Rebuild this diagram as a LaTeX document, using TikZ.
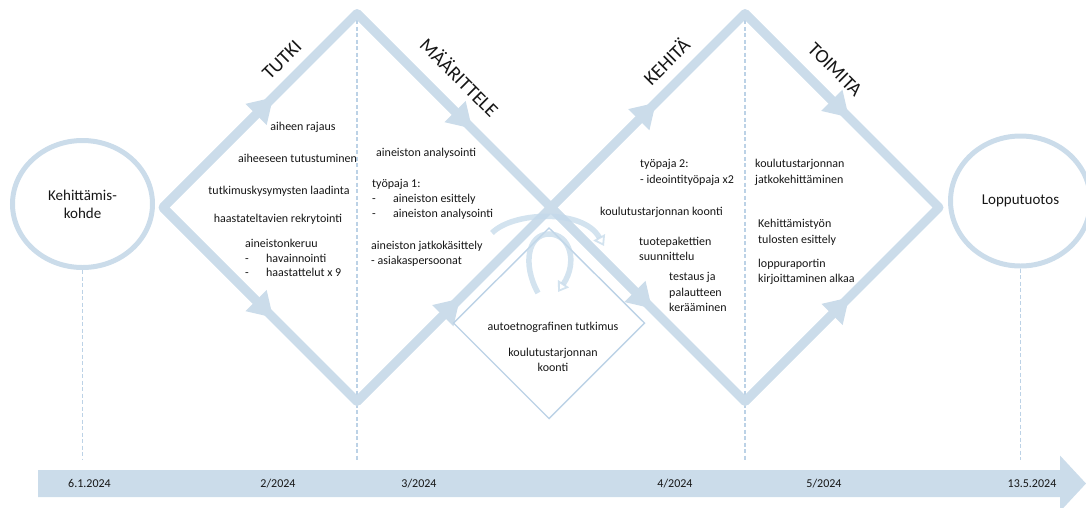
\documentclass[tikz,border=0pt]{standalone}
\usepackage{fontspec}
\setmainfont{Carlito}
\usetikzlibrary{arrows.meta,calc,shapes.geometric}
\definecolor{flow}{RGB}{203,220,234}
\definecolor{guide}{RGB}{188,210,230}
\definecolor{swirl}{RGB}{196,217,234}
\definecolor{ink}{RGB}{22,22,22}
% stacked lines whose first baseline is the node's baseline
\newcommand\stackl[1]{\begin{tabular}[t]{@{}l@{}}#1\end{tabular}}
\newcommand\stackc[1]{\begin{tabular}[t]{@{}c@{}}#1\end{tabular}}
\newcommand\dashitem{\makebox[21pt][l]{-}}

\begin{document}
\begin{tikzpicture}[x=1pt,y=-1pt,
  flowline/.style={draw=flow,line width=9pt,line join=round},
  flowtip/.style={draw=flow,line width=9pt,-{Triangle[length=24pt,width=30pt,line width=0pt]}},
  guideline/.style={draw=guide,line width=1.1pt,dash pattern=on 4pt off 2.5pt},
  swirlarc/.style={draw=swirl,line width=5.5pt,opacity=0.75,-{Triangle[open,length=10pt,width=13pt,line width=1.8pt]}},
  inner/.style={draw=guide,line width=1.4pt,line join=miter},
  endpoint/.style={ellipse,draw=flow,line width=5pt,inner sep=0pt,align=center,
    text=ink,font=\fontsize{15}{18}\selectfont},
  txt/.style={inner sep=0pt,text=ink,font=\fontsize{12}{14.7}\selectfont},
  phase/.style={inner sep=0pt,text=ink,font=\fontsize{19.5}{20}\selectfont},
  date/.style={inner sep=0pt,text=ink,font=\fontsize{12}{14}\selectfont,anchor=base}]
\useasboundingbox (0,0) rectangle (1086,507);

% start and end states
\node[endpoint,minimum width=140pt,minimum height=127pt] (kohde) at (82.5,204) {Kehittämis-\\kohde};
\node[endpoint,minimum width=140pt,minimum height=130pt] (tuotos) at (1020.5,201) {Lopputuotos};

% corner points of the two diamonds
\coordinate (L1) at (163,207.5);
\coordinate (T1) at (357,13.5);
\coordinate (X)  at (551,207.5);
\coordinate (B1) at (357,401.5);
\coordinate (T2) at (745,13.5);
\coordinate (R2) at (939,207.5);
\coordinate (B2) at (745,401.5);

% feet of the guide lines
\coordinate (g1) at (82.5,460);
\coordinate (g2) at (357,460);
\coordinate (g3) at (745,460);
\coordinate (g4) at (1020.5,460);

% guide lines down to the timeline
\draw[guideline] (kohde) -- (g1);
\draw[guideline] (T1) -- (g2);
\draw[guideline] (T2) -- (g3);
\draw[guideline] (tuotos) -- (g4);

% timeline arrow
\fill[flow] (38,470) -- (1060,470) -- (1060,455.5) -- (1086,483.5) -- (1060,511.5) -- (1060,497) -- (38,497) -- cycle;

% the double diamond
\draw[flowline] (L1) -- (T1) -- (X) -- (B1) -- cycle;
\draw[flowline] (X) -- (T2) -- (R2) -- (B2) -- cycle;

% direction arrows on every edge
\draw[flowtip] (L1) -- ($(L1)!0.567!(T1)$);
\draw[flowtip] (T1) -- ($(T1)!0.593!(X)$);
\draw[flowtip] (L1) -- ($(L1)!0.567!(B1)$);
\draw[flowtip] (B1) -- ($(B1)!0.53!(X)$);
\draw[flowtip] (X) -- ($(X)!0.54!(T2)$);
\draw[flowtip] (T2) -- ($(T2)!0.535!(R2)$);
\draw[flowtip] (X) -- ($(X)!0.52!(B2)$);
\draw[flowtip] (B2) -- ($(B2)!0.536!(R2)$);

% small diamond below the crossing
\coordinate (sT) at (549,228);
\coordinate (sL) at (453.5,323);
\coordinate (sB) at (549,418.5);
\coordinate (sR) at (644.5,323);
\draw[inner] (sT) -- (sR) -- (sB) -- (sL) -- cycle;

% iteration arrows at the crossing
\coordinate (la) at (492,233);
\coordinate (lb) at (604,246);
\draw[swirlarc] (la) .. controls (512,212) and (583,208) .. (lb);
\coordinate (lc) at (538,293);
\coordinate (ld) at (549,234);
\coordinate (le) at (558,292);
\draw[swirlarc] (lc) .. controls (522,264) and (528,234) .. (ld) .. controls (570,234) and (578,262) .. (le);

% phase titles
\node[phase,rotate=45]  (tutki) at (282,60) {TUTKI};
\node[phase,rotate=-45] (maar)  at (460,77) {MÄÄRITTELE};
\node[phase,rotate=45]  (kehi)  at (666,61) {KEHITÄ};
\node[phase,rotate=-45] (toim)  at (835,69.5) {TOIMITA};

% TUTKI tasks
\node[txt,anchor=base] (t1) at (303,130.5) {aiheen rajaus};
\node[txt,anchor=base] (t2) at (297.5,162.5) {aiheeseen tutustuminen};
\node[txt,anchor=base] (t3) at (279,194.5) {tutkimuskysymysten laadinta};
\node[txt,anchor=base] (t4) at (278,222.5) {haastateltavien rekrytointi};
\node[txt,anchor=base west] (t5) at (245,247.5)
  {\stackl{aineistonkeruu\\\dashitem havainnointi\\\dashitem haastattelut x 9}};

% MÄÄRITTELE tasks
\node[txt,anchor=base west] (m1) at (376,156.5) {aineiston analysointi};
\node[txt,anchor=base west,font=\fontsize{12}{15}\selectfont] (m2) at (372,187.5)
  {\stackl{työpaja 1:\\\dashitem aineiston esittely\\\dashitem aineiston analysointi}};
\node[txt,anchor=base west] (m3) at (371,249.5)
  {\stackl{aineiston jatkokäsittely\\- asiakaspersoonat}};

% KEHITÄ tasks
\node[txt,anchor=base west,font=\fontsize{12}{16}\selectfont] (k1) at (640,167.7)
  {\stackl{työpaja 2:\\- ideointityöpaja x2}};
\node[txt,anchor=base west] (k2) at (600,215.5) {koulutustarjonnan koonti};
\node[txt,anchor=base west,font=\fontsize{12}{15.2}\selectfont] (k3) at (639,245.6)
  {\stackl{tuotepakettien\\suunnittelu}};
\node[txt,anchor=base west,font=\fontsize{12}{15.3}\selectfont] (k4) at (669,280.9)
  {\stackl{testaus ja\\palautteen\\kerääminen}};

% TOIMITA tasks
\node[txt,anchor=base west,font=\fontsize{12}{16}\selectfont] (o1) at (755,167.7)
  {\stackl{koulutustarjonnan\\jatkokehittäminen}};
\node[txt,anchor=base west,font=\fontsize{12}{16}\selectfont] (o2) at (758,227.5)
  {\stackl{Kehittämistyön\\tulosten esittely}};
\node[txt,anchor=base west,font=\fontsize{12}{15.4}\selectfont] (o3) at (758,267.5)
  {\stackl{loppuraportin\\kirjoittaminen alkaa}};

% parallel work
\node[txt,anchor=base] (a1) at (553,330.5) {autoetnografinen tutkimus};
\node[txt,anchor=base,font=\fontsize{12}{15}\selectfont] (a2) at (553,356.5)
  {\stackc{koulutustarjonnan\\koonti}};

% dates on the timeline
\node[date] (d1) at (89.5,487.8) {6.1.2024};
\node[date] (d2) at (278,487.8) {2/2024};
\node[date] (d3) at (419,487.8) {3/2024};
\node[date] (d4) at (675,487.8) {4/2024};
\node[date] (d5) at (824,487.8) {5/2024};
\node[date] (d6) at (1032,487.8) {13.5.2024};
\end{tikzpicture}
\end{document}
